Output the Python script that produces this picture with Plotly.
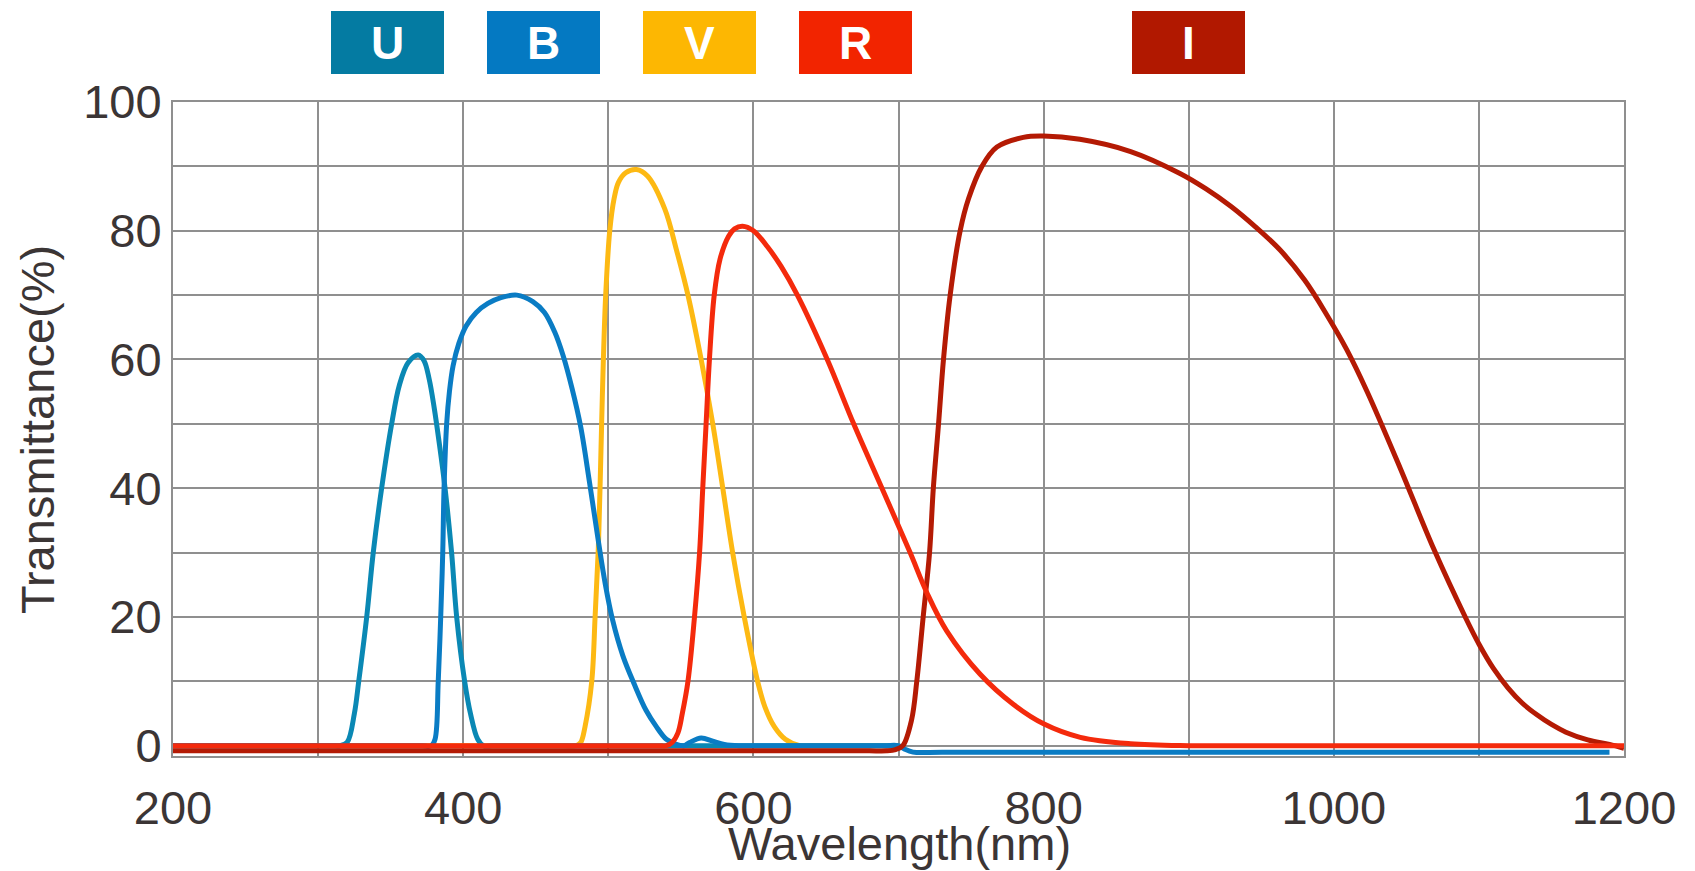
import plotly.graph_objects as go

# ---- data ----
u_x = [200, 280, 300, 310, 315, 320, 325, 328, 333.5, 338, 343.8, 350.7, 356, 362, 369, 373, 376.5, 380, 383.5, 387.5, 392, 395.5, 401, 405, 410, 414, 420, 440, 500, 600, 700]
u_y = [0, 0, 0, 0, 0, 0.5, 5, 10, 20, 30, 40, 50, 56, 59.5, 60.7, 59.8, 57, 52.5, 47, 40, 30, 20, 10, 5, 1, 0, 0, 0, 0, 0, 0]

b_x = [200, 340, 360, 372, 378, 380.6, 382.8, 384.5, 385.9, 386.8, 388.6, 390.5, 393, 397, 402, 409, 417, 426, 437, 448, 456, 463, 469, 475, 481, 487, 493, 498, 503, 510, 518, 526, 533, 540, 547, 552, 556, 564, 572, 580, 590, 610, 650, 690, 700, 704, 710, 730, 800, 1000, 1190]
b_y = [0, 0, 0, 0, 0, 1, 10, 20, 30, 40, 50, 55, 59, 62.5, 65.2, 67.3, 68.7, 69.6, 70, 69, 67.3, 64.3, 60.5, 55.5, 49.5, 41, 32, 25, 19.5, 14, 9.5, 5.5, 3, 1, 0.2, 0, 0.5, 1.2, 0.7, 0.2, 0, 0, 0, 0, 0, -0.5, -1, -1, -1, -1, -1]

v_x = [200, 440, 460, 470, 478, 481, 484, 488.6, 490.9, 493, 494.3, 495.4, 496.6, 498.2, 501, 504, 507, 512, 519.4, 527, 538.9, 547, 554.9, 564, 572, 578.9, 585.7, 593.7, 602.9, 608, 614.3, 622, 632, 640, 660, 700]
v_y = [0, 0, 0, 0, 0, 0.5, 3, 10, 20, 30, 40, 50, 60, 70, 80, 85, 87.5, 89, 89.5, 88.5, 83.4, 77, 70, 60, 50, 40, 30, 20, 10, 6, 3, 1, 0, 0, 0, 0]

r_x = [200, 480, 510, 525, 535, 540, 544, 548, 551, 554.9, 559.4, 562.9, 565.1, 567.4, 569.7, 573, 577, 583, 587, 592.5, 600, 609.7, 619, 630.3, 650.9, 669.1, 688.6, 708, 719.5, 733.3, 756.3, 779.3, 800, 825.3, 859.8, 900, 950, 1000, 1200]
r_y = [0, 0, 0, 0, 0, 0, 0.5, 2, 5, 10, 20, 30, 40, 50, 60, 70, 75.6, 79.2, 80.3, 80.7, 80, 77.5, 74.5, 70, 60, 50, 40, 30, 23.8, 17.8, 11.1, 6.4, 3.4, 1.3, 0.3, 0, 0, 0, 0]

i_x = [200, 600, 660, 680, 692, 698, 703, 709, 712.6, 717, 721.4, 724, 727.6, 731, 735.6, 742.5, 748.3, 757.5, 767.8, 786, 800, 825, 860, 894, 912, 929, 946, 963, 980, 995, 1009, 1023, 1046, 1069, 1091, 1100, 1110, 1120, 1130, 1140, 1150, 1160, 1175, 1190, 1200]
i_y = [-0.8, -0.8, -0.8, -0.8, -0.8, -0.6, 0, 4, 10, 20, 30, 40, 50, 60, 70, 80, 85, 90, 93, 94.5, 94.7, 94.2, 92.3, 88.9, 86.5, 83.8, 80.6, 77, 72.3, 67, 61.5, 55, 43, 30.5, 19.8, 15.8, 12, 9, 6.6, 4.8, 3.3, 2.1, 0.9, 0.2, -0.4]

series_names = ["U", "B", "V", "R", "I"]
line_colors = ["#0A88B4", "#0A7CC4", "#FDB913", "#F42A0C", "#B41A04"]
box_colors = ["#047BA2", "#0479C2", "#FDB702", "#F22400", "#B11800"]
box_centers_px = [387, 543, 699, 855, 1188]

x_ticks = [200, 400, 600, 800, 1000, 1200]
y_ticks = [0, 20, 40, 60, 80, 100]

# ---- figure ----
OFF = 8  # default page body margin
W, H = 1695 - OFF, 871 - OFF
ML, MR, MT, MB = 165, 71, 94, 115
PW, PH = W - ML - MR, H - MT - MB


def px_to_paper(sx, sy):
    return (sx - OFF - ML) / PW, 1 - (sy - OFF - MT) / PH


fig = go.Figure()
xs = [u_x, b_x, v_x, r_x, i_x]
ys = [u_y, b_y, v_y, r_y, i_y]
for k in [2, 0, 1, 4, 3]:  # V, U, B, I, then R on top along the baseline
    fig.add_trace(go.Scatter(x=xs[k], y=ys[k], mode="lines", name=series_names[k],
                             line=dict(color=line_colors[k], width=5, shape="spline", smoothing=1.0),
                             showlegend=False, hoverinfo="skip"))

grid = "#8f8f8f"
FONT = "Arial, Liberation Sans, sans-serif"
tick_font = dict(family=FONT, size=47, color="#3b3535")

fig.update_layout(
    width=W, height=H,
    margin=dict(l=ML, r=MR, t=MT, b=MB),
    paper_bgcolor="white", plot_bgcolor="white",
    xaxis=dict(range=[200, 1200], tickvals=x_ticks, ticktext=[str(v) for v in x_ticks],
               showgrid=True, gridcolor=grid, gridwidth=2, zeroline=False,
               showline=True, linecolor=grid, linewidth=2, mirror=True,
               ticks="", ticklabelstandoff=10, tickfont=tick_font,
               minor=dict(dtick=100, tick0=200, showgrid=True, gridcolor=grid, gridwidth=2)),
    yaxis=dict(range=[-1.6, 100], tickvals=y_ticks, ticktext=[str(v) for v in y_ticks],
               showgrid=True, gridcolor=grid, gridwidth=2, zeroline=False,
               showline=True, linecolor=grid, linewidth=2, mirror=True,
               ticks="", ticklabelstandoff=0, tickfont=tick_font,
               minor=dict(dtick=10, tick0=0, showgrid=True, gridcolor=grid, gridwidth=2)),
)

annotations = []
for name, c, cx in zip(series_names, box_colors, box_centers_px):
    xp, yp = px_to_paper(cx, 42.5)
    annotations.append(dict(
        x=xp, y=yp, xref="paper", yref="paper",
        xanchor="center", yanchor="middle", text="<b>%s</b>" % name, showarrow=False,
        width=113, height=63, bgcolor=c, borderpad=0, borderwidth=0,
        font=dict(family=FONT, size=46, color="white")))

xp, yp = px_to_paper(899, 843)
annotations.append(dict(x=xp, y=yp, xref="paper", yref="paper",
                        xanchor="center", yanchor="middle", text="Wavelength(nm)", showarrow=False,
                        font=tick_font))
xp, yp = px_to_paper(38, 430)
annotations.append(dict(x=xp, y=yp, xref="paper", yref="paper",
                        xanchor="center", yanchor="middle", text="Transmittance(%)", showarrow=False,
                        textangle=-90, font=tick_font))
fig.update_layout(annotations=annotations)

fig.write_html("out.html")
